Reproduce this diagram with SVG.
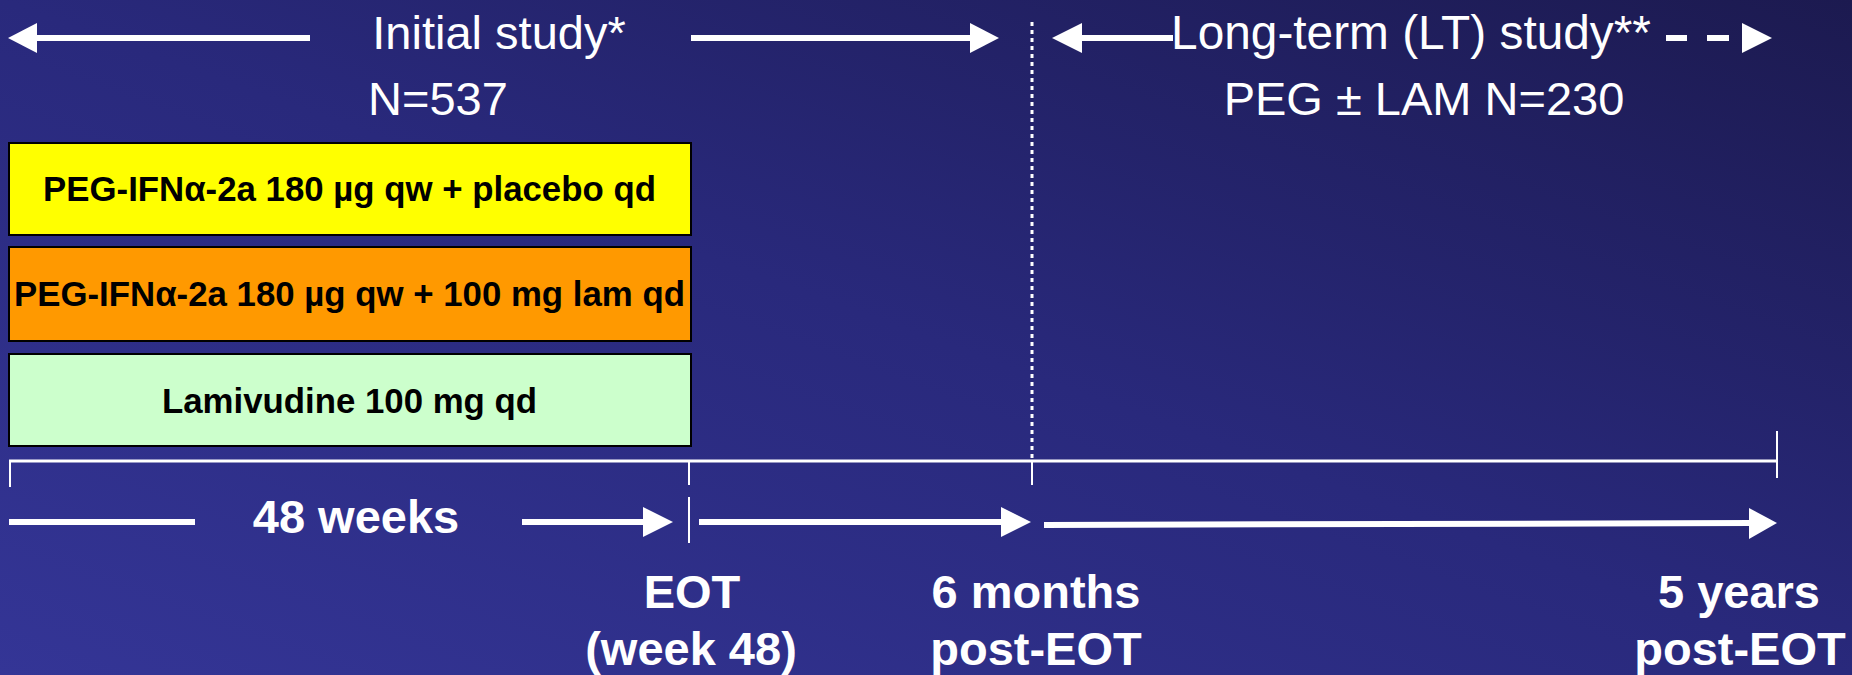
<svg xmlns="http://www.w3.org/2000/svg" width="1852" height="675" viewBox="0 0 1852 675">
<defs>
<linearGradient id="bg" x1="0" y1="1" x2="1" y2="0">
<stop offset="0" stop-color="#343596"/>
<stop offset="0.5" stop-color="#29297c"/>
<stop offset="1" stop-color="#1c1a50"/>
</linearGradient>
<style>
.lt{font-family:"Liberation Sans",Arial,sans-serif;font-size:47px;fill:#fff;text-anchor:middle}
.bt{font-family:"Liberation Sans",Arial,sans-serif;font-size:47px;font-weight:bold;fill:#fff;text-anchor:middle}
.bx{font-family:"Liberation Sans",Arial,sans-serif;font-size:34.8px;font-weight:bold;fill:#000;text-anchor:middle}
.box{stroke:#000;stroke-width:2}
.ln{stroke:#fff;stroke-width:6;fill:none}
.ax{stroke:#fff;stroke-width:3;fill:none}
.tk{stroke:#fff;stroke-width:2;fill:none}
.hd{fill:#fff}
</style>
</defs>
<rect width="1852" height="675" fill="url(#bg)"/>

<g id="connectors">
<line class="ln" x1="30" y1="38" x2="310" y2="38"/>
<polygon class="hd" points="8,38 37,23 37,53"/>
<line class="ln" x1="691" y1="38" x2="975" y2="38"/>
<polygon class="hd" points="999,38 970,23 970,53"/>
<line x1="1032" y1="22" x2="1032" y2="458" stroke="#fff" stroke-width="3" stroke-dasharray="4 4"/>
<line class="ln" x1="1075" y1="38" x2="1173" y2="38"/>
<polygon class="hd" points="1052,38 1082,23 1082,53"/>
<line class="ln" x1="1666" y1="38" x2="1687" y2="38"/>
<line class="ln" x1="1707" y1="38" x2="1729" y2="38"/>
<polygon class="hd" points="1772,38 1742,23 1742,53"/>
<line class="ax" x1="9" y1="461" x2="1778" y2="461"/>
<line class="tk" x1="10" y1="461" x2="10" y2="487"/>
<line class="tk" x1="689" y1="461" x2="689" y2="485"/>
<line class="tk" x1="689" y1="497" x2="689" y2="543"/>
<line class="tk" x1="1032" y1="461" x2="1032" y2="485"/>
<line class="tk" x1="1777" y1="431" x2="1777" y2="478"/>
<line class="ln" x1="9" y1="522" x2="195" y2="522"/>
<line class="ln" x1="522" y1="522" x2="648" y2="522"/>
<polygon class="hd" points="673,522 643,507 643,537"/>
<line class="ln" x1="699" y1="522" x2="1005" y2="522"/>
<polygon class="hd" points="1031,522 1001,507 1001,537"/>
<line class="ln" x1="1044" y1="525" x2="1752" y2="523"/>
<polygon class="hd" points="1777,523 1749,508 1749,539"/>
</g>

<g id="title-initial">
<text class="lt" x="499" y="49">Initial study*</text>
<text class="lt" x="438" y="115">N=537</text>
</g>
<g id="title-lt">
<text class="lt" x="1411" y="49" style="font-size:47.8px">Long-term (LT) study**</text>
<text class="lt" x="1424" y="115">PEG ± LAM N=230</text>
</g>

<g id="box-peg-placebo">
<rect class="box" x="9" y="143" width="682" height="92" fill="#ffff00"/>
<text class="bx" x="349.5" y="201">PEG-IFNα-2a 180 µg qw + placebo qd</text>
</g>
<g id="box-peg-lam">
<rect class="box" x="9" y="247" width="682" height="94" fill="#ff9900"/>
<text class="bx" x="349.5" y="306">PEG-IFNα-2a 180 µg qw + 100 mg lam qd</text>
</g>
<g id="box-lam">
<rect class="box" x="9" y="354" width="682" height="92" fill="#ccffcc"/>
<text class="bx" x="349.5" y="413">Lamivudine 100 mg qd</text>
</g>

<g id="label-48weeks">
<text class="bt" x="356" y="533">48 weeks</text>
</g>
<g id="label-eot">
<text class="bt" x="692" y="608">EOT</text>
<text class="bt" x="691" y="665">(week 48)</text>
</g>
<g id="label-6m">
<text class="bt" x="1036" y="608">6 months</text>
<text class="bt" x="1036" y="665">post-EOT</text>
</g>
<g id="label-5y">
<text class="bt" x="1739" y="608">5 years</text>
<text class="bt" x="1740" y="665">post-EOT</text>
</g>
</svg>
